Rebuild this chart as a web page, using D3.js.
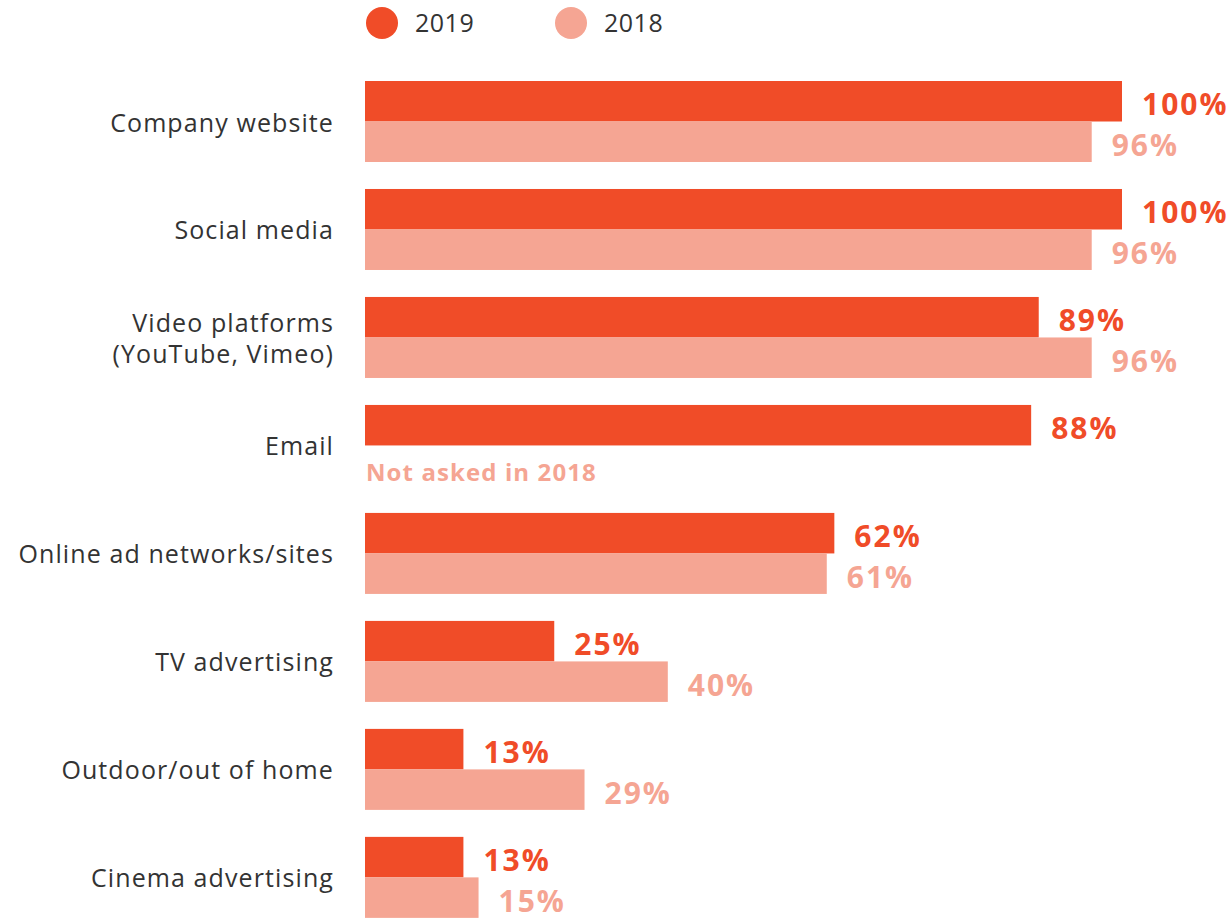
<!DOCTYPE html>
<html>
<head>
<meta charset="utf-8">
<script src="https://cdn.jsdelivr.net/npm/d3@7"></script>
<style>
  html, body { margin: 0; padding: 0; background: #fff; }
  svg { display: block; font-family: "Open Sans", "Lato", sans-serif; }
</style>
</head>
<body>
<svg id="chart" width="1227" height="918"></svg>
<script>
// Marketing channels used, 2019 vs 2018 (percent of respondents)
const categories = [
  ["Company website"],
  ["Social media"],
  ["Video platforms", "(YouTube, Vimeo)"],
  ["Email"],
  ["Online ad networks/sites"],
  ["TV advertising"],
  ["Outdoor/out of home"],
  ["Cinema advertising"]
];
const values2019 = [100, 100, 89, 88, 62, 25, 13, 13];
const values2018 = [96, 96, 96, null, 61, 40, 29, 15];
const seriesNames = ["2019", "2018"];
const missingNote = "Not asked in 2018";

const colors = { "2019": "#F04C28", "2018": "#F5A593" };
const textColor = "#333333";

const svg = d3.select("#chart");

const x = d3.scaleLinear().domain([0, 100]).range([365, 1122]);
const y = d3.scaleBand()
  .domain(d3.range(categories.length))
  .range([81, 917])
  .paddingInner(0.258)
  .paddingOuter(0)
  .align(0);

const barH = 40.5;

// Legend
const legend = svg.append("g");
const legendX = [382, 571];
seriesNames.forEach((name, i) => {
  legend.append("circle")
    .attr("cx", legendX[i]).attr("cy", 23).attr("r", 16)
    .attr("fill", colors[name]);
  legend.append("text")
    .attr("x", legendX[i] + 33).attr("y", 32)
    .attr("font-size", 25).attr("fill", textColor)
    .attr("letter-spacing", 0.5)
    .text(name);
});

const rows = svg.append("g")
  .selectAll("g")
  .data(categories.map((c, i) => ({ lines: c, v19: values2019[i], v18: values2018[i], i })))
  .join("g")
  .attr("transform", d => `translate(0,${y(d.i)})`);

// Category labels, right-aligned against the bars
rows.append("text")
  .attr("text-anchor", "end")
  .attr("font-size", 25)
  .attr("letter-spacing", 1.1)
  .attr("fill", textColor)
  .each(function(d) {
    const t = d3.select(this);
    const n = d.lines.length;
    d.lines.forEach((line, k) => {
      t.append("tspan")
        .attr("x", 334)
        .attr("y", barH + 10 + (k - (n - 1) / 2) * 31)
        .text(line);
    });
  });

// 2019 bars
rows.append("rect")
  .attr("x", x(0)).attr("y", 0)
  .attr("width", d => x(d.v19) - x(0))
  .attr("height", barH)
  .attr("fill", colors["2019"]);

rows.append("text")
  .attr("x", d => x(d.v19) + 20)
  .attr("y", barH / 2 + 14)
  .attr("font-size", 30).attr("font-weight", 700)
  .attr("letter-spacing", 2)
  .attr("fill", colors["2019"])
  .text(d => d.v19 + "%");

// 2018 bars
const r18 = rows.filter(d => d.v18 != null);
r18.append("rect")
  .attr("x", x(0)).attr("y", barH)
  .attr("width", d => x(d.v18) - x(0))
  .attr("height", barH)
  .attr("fill", colors["2018"]);

r18.append("text")
  .attr("x", d => x(d.v18) + 20)
  .attr("y", barH * 1.5 + 14)
  .attr("font-size", 30).attr("font-weight", 700)
  .attr("letter-spacing", 2)
  .attr("fill", colors["2018"])
  .text(d => d.v18 + "%");

rows.filter(d => d.v18 == null)
  .append("text")
  .attr("x", x(0) + 1)
  .attr("y", barH * 1.5 + 15)
  .attr("font-size", 24).attr("font-weight", 700)
  .attr("letter-spacing", 1.1)
  .attr("fill", colors["2018"])
  .text(missingNote);
</script>
</body>
</html>
